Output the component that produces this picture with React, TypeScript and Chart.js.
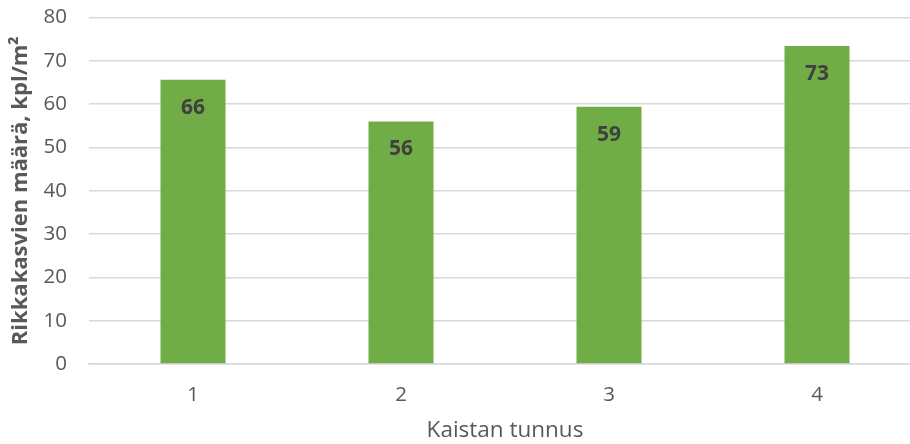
import React, { useEffect, useRef } from "react";
import { Chart, registerables } from "chart.js";

Chart.register(...registerables);

const categories = ["1", "2", "3", "4"];
const values = [65.6, 56.0, 59.4, 73.4];
const yTitle = "Rikkakasvien määrä, kpl/m²";
const xTitle = "Kaistan tunnus";

const FONT = "'Open Sans', sans-serif";

const valueLabels = {
  id: "valueLabels",
  afterDatasetsDraw(chart: any) {
    const ctx = chart.ctx;
    const meta = chart.getDatasetMeta(0);
    ctx.save();
    ctx.font = `bold 21px ${FONT}`;
    ctx.fillStyle = "#404040";
    ctx.textAlign = "center";
    ctx.textBaseline = "middle";
    meta.data.forEach((bar: any, i: number) => {
      ctx.fillText(String(Math.round(values[i])), bar.x, bar.y + 28);
    });
    ctx.restore();
  },
};

export default function App() {
  const ref = useRef<HTMLCanvasElement>(null);
  useEffect(() => {
    document.body.style.margin = "0";
    const chart = new Chart(ref.current!, {
      type: "bar",
      data: {
        labels: categories,
        datasets: [
          {
            data: values,
            backgroundColor: "#70AD47",
            barPercentage: 0.3125,
            categoryPercentage: 1,
          },
        ],
      },
      options: {
        animation: false,
        responsive: true,
        maintainAspectRatio: false,
        layout: { padding: { top: 17.5, right: 19, left: 0, bottom: 0 } },
        plugins: { legend: { display: false }, tooltip: { enabled: false } },
        scales: {
          x: {
            grid: { display: false, drawTicks: false },
            border: { color: "#D9D9D9", width: 1.5 },
            ticks: { color: "#595959", font: { family: FONT, size: 20.5 }, padding: 19 },
            title: {
              display: true,
              text: xTitle,
              color: "#595959",
              font: { family: FONT, size: 22.5 },
              padding: { top: 6, bottom: 0 },
            },
            afterFit(scale: any) {
              scale.height = 80;
              scale.paddingLeft = 0;
              scale.paddingRight = 0;
            },
          },
          y: {
            min: 0,
            max: 80,
            ticks: {
              stepSize: 10,
              color: "#595959",
              font: { family: FONT, size: 20.5 },
              padding: 22,
            },
            grid: { color: "#D9D9D9", lineWidth: 1.5, drawTicks: false },
            border: { display: false },
            title: {
              display: true,
              text: yTitle,
              color: "#595959",
              font: { family: FONT, size: 22, weight: "bold" },
              padding: { top: 8, bottom: 0 },
            },
            afterFit(scale: any) {
              scale.width = 89;
              scale.paddingTop = 0;
              scale.paddingBottom = 0;
            },
          },
        },
      },
      plugins: [valueLabels],
    });
    return () => chart.destroy();
  }, []);
  return (
    <div style={{ position: "fixed", left: 0, top: 0, width: 910, height: 444, overflow: "hidden" }}>
      <div style={{ width: 940, height: 444, position: "relative" }}>
        <canvas ref={ref} />
      </div>
    </div>
  );
}
